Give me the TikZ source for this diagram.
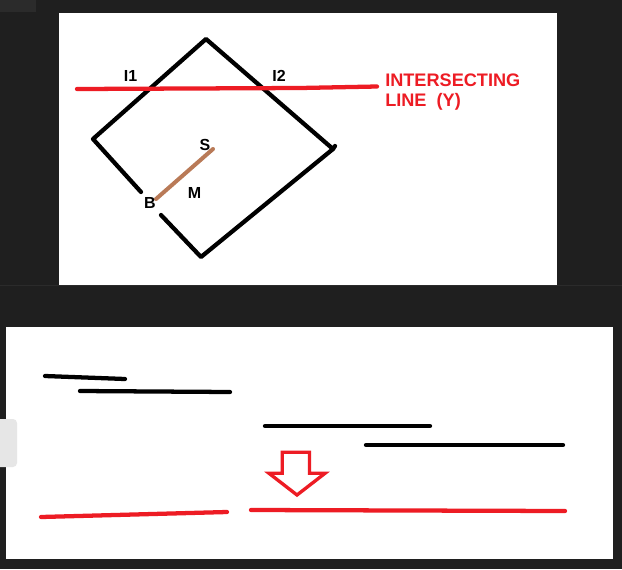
\documentclass[tikz,border=0pt]{standalone}
\usepackage{fontspec}
\setmainfont{Liberation Sans}
\definecolor{bgdark}{HTML}{1F1F1F}
\definecolor{bgtab}{HTML}{2B2B2B}
\definecolor{sidetab}{HTML}{E6E6E6}
\definecolor{pred}{HTML}{ED1C24}
\definecolor{pbrown}{HTML}{B97A57}
\begin{document}
\begin{tikzpicture}[x=0.75pt,y=-0.75pt,
  edge/.style={draw=black,line width=3.2pt,line cap=round,line join=round},
  redline/.style={draw=pred,line width=3.2pt,line cap=round,line join=round},
  brownline/.style={draw=pbrown,line width=3pt,line cap=round},
  blackbar/.style={draw=black,line width=3.2pt,line cap=round,line join=round},
  arrowoutline/.style={draw=pred,line width=2.5pt,line join=miter},
  lbl/.style={inner sep=0pt,anchor=base,font=\bfseries\fontsize{12}{14}\selectfont},
  redlbl/.style={inner sep=0pt,anchor=base west,text=pred,font=\bfseries\fontsize{13.6}{16}\selectfont}]
% background and panels
\fill[bgdark] (0,0) rectangle (622,569);
\useasboundingbox (0,0) rectangle (622,569);
\fill[bgtab] (0,0) rectangle (36,12);
\fill[bgtab] (0,285) rectangle (622,286.3);
\fill[white] (59,13) rectangle (557,285);
\fill[white] (6,327) rectangle (613,559);
\fill[sidetab,rounded corners=3pt] (-6,419) rectangle (17,467);
% ---------- top panel ----------
\coordinate (T) at (206,39);
\coordinate (L) at (93,139);
\coordinate (R) at (333,149);
\coordinate (Rt) at (335,146);
\coordinate (Bt) at (201,257);
\coordinate (G1) at (141,192);
\coordinate (G2) at (161,215);
\draw[edge] (G1) -- (L) -- (T) -- (R) -- (Rt);
\draw[edge] (R) -- (Bt) -- (G2);
% intersecting line
\coordinate (Y1) at (77,89);
\coordinate (Y2) at (300,88);
\coordinate (Y3) at (377,86.5);
\draw[redline] (Y1) -- (Y2) -- (Y3);
% segment BS
\coordinate (Bp) at (156,199);
\coordinate (Sp) at (213,149);
\draw[brownline] (Bp) -- (Sp);
% labels
\node[lbl] (i1) at (130.5,81) {I1};
\node[lbl] (i2) at (279,81) {I2};
\node[lbl] (s) at (205,150) {S};
\node[lbl] (b) at (150,208) {B};
\node[lbl] (m) at (194.5,198) {M};
\node[redlbl] (t1) at (385,86) {INTERSECTING};
\node[redlbl] (t2) at (385,106.5) {LINE\ \ (Y)};
% ---------- bottom panel ----------
\coordinate (a1) at (45,376);
\coordinate (a2) at (125,379);
\coordinate (b1) at (80,391);
\coordinate (b2) at (230,392);
\coordinate (c1) at (265,426);
\coordinate (c2) at (430,426);
\coordinate (d1) at (366,445);
\coordinate (d2) at (563,445);
\draw[blackbar] (a1) -- (a2);
\draw[blackbar] (b1) -- (b2);
\draw[blackbar] (c1) -- (c2);
\draw[blackbar] (d1) -- (d2);
% hollow down arrow
\coordinate (p1) at (282.3,452.3);
\coordinate (p2) at (309.5,452.3);
\coordinate (p3) at (309.5,473.3);
\coordinate (p4) at (325,473.3);
\coordinate (p5) at (297,495);
\coordinate (p6) at (269,473.3);
\coordinate (p7) at (282.3,473.3);
\draw[arrowoutline] (p1) -- (p2) -- (p3) -- (p4) -- (p5) -- (p6) -- (p7) -- cycle;
% red result lines
\coordinate (e1) at (41,517);
\coordinate (e2) at (227,512);
\coordinate (f1) at (251,510);
\coordinate (f2) at (408,510.5);
\coordinate (f3) at (565,511);
\draw[redline] (e1) -- (e2);
\draw[redline] (f1) -- (f2) -- (f3);
\end{tikzpicture}
\end{document}
